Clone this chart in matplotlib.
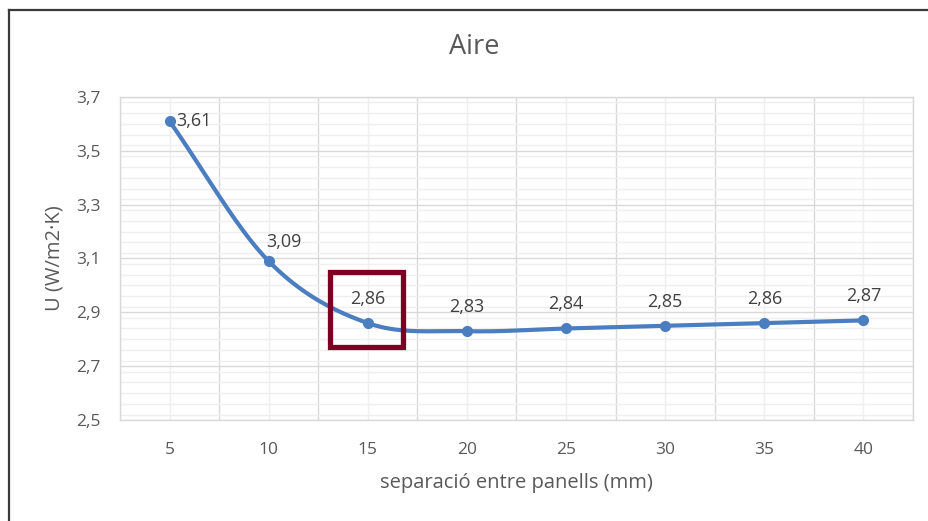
import numpy as np
import matplotlib
matplotlib.use("Agg")
import matplotlib.pyplot as plt
from matplotlib.patches import Rectangle
from matplotlib.lines import Line2D
from matplotlib.ticker import MultipleLocator, FixedLocator, NullFormatter

plt.rcParams['font.family'] = ['Open Sans', 'DejaVu Sans']

# Data
separacio = [5, 10, 15, 20, 25, 30, 35, 40]
u_valor = [3.61, 3.09, 2.86, 2.83, 2.84, 2.85, 2.86, 2.87]
etiquetes = ["3,61", "3,09", "2,86", "2,83", "2,84", "2,85", "2,86", "2,87"]
y_ticks = [2.5, 2.7, 2.9, 3.1, 3.3, 3.5, 3.7]
y_tick_labels = ["2,5", "2,7", "2,9", "3,1", "3,3", "3,5", "3,7"]

TEXT = "#595959"
BLUE = "#4a7ec1"
GRID_MAJOR = "#d9d9d9"
GRID_MINOR = "#efefef"

fig = plt.figure(figsize=(9.29, 5.21), dpi=100)
ax = fig.add_axes([120 / 929, 1 - 420 / 521, 793 / 929, 323 / 521])

idx = np.arange(len(separacio))
y = np.array(u_valor, dtype=float)

# Smoothed line: cubic Hermite with Catmull-Rom tangents, reflected end points
ext = np.concatenate([[2 * y[0] - y[1]], y, [2 * y[-1] - y[-2]]])
tang = (ext[2:] - ext[:-2]) / 2.0
xs, ys = [], []
for i in range(len(y) - 1):
    t = np.linspace(0, 1, 40)
    h00 = 2 * t**3 - 3 * t**2 + 1
    h10 = t**3 - 2 * t**2 + t
    h01 = -2 * t**3 + 3 * t**2
    h11 = t**3 - t**2
    xs.append(i + t)
    ys.append(h00 * y[i] + h10 * tang[i] + h01 * y[i + 1] + h11 * tang[i + 1])
xs = np.concatenate(xs)
ys = np.concatenate(ys)

ax.plot(xs, ys, color=BLUE, lw=3.0, solid_capstyle='round', zorder=3)
ax.plot(idx, y, 'o', color=BLUE, ms=7, zorder=4)

# Data labels
offsets = {0: (5, 0, 'left', 'center'), 1: (-2, 7, 'left', 'bottom')}
for i, (v, lab) in enumerate(zip(u_valor, etiquetes)):
    dx, dy, ha, va = offsets.get(i, (0, 11, 'center', 'bottom'))
    ax.annotate(lab, (i, v), xytext=(dx, dy), textcoords='offset points',
                ha=ha, va=va, fontsize=13, color="#404040", zorder=5)

ax.set_xlim(-0.5, len(separacio) - 0.5)
ax.set_ylim(2.5, 3.7)

ax.yaxis.set_major_locator(FixedLocator(y_ticks))
ax.set_yticklabels(y_tick_labels)
ax.yaxis.set_minor_locator(MultipleLocator(0.04))
ax.xaxis.set_major_locator(FixedLocator(idx))
ax.set_xticklabels([str(s) for s in separacio])
ax.xaxis.set_minor_locator(FixedLocator(np.arange(-0.5, len(separacio), 1.0)))
ax.xaxis.set_minor_formatter(NullFormatter())

ax.grid(True, which='major', axis='y', color=GRID_MAJOR, lw=1.0, zorder=0)
ax.grid(True, which='minor', axis='y', color=GRID_MINOR, lw=1.0, zorder=0)
ax.grid(True, which='minor', axis='x', color=GRID_MAJOR, lw=1.0, zorder=0)
ax.grid(True, which='major', axis='x', color=GRID_MINOR, lw=1.0, zorder=0)
ax.set_axisbelow(True)

ax.tick_params(axis='both', which='both', length=0, labelsize=12.5, colors=TEXT)
ax.tick_params(axis='y', pad=14)
ax.tick_params(axis='x', pad=16)
for s in ax.spines.values():
    s.set_color(GRID_MAJOR)
    s.set_linewidth(1.0)

ax.set_xlabel("separació entre panells (mm)", fontsize=14.5, color=TEXT)
ax.set_ylabel("U (W/m2·K)", fontsize=14.5, color=TEXT)
ax.xaxis.set_label_coords(516 / 929, 1 - 483 / 521, transform=fig.transFigure)
ax.yaxis.set_label_coords(55 / 929, 1 - 258 / 521, transform=fig.transFigure)
ax.xaxis.label.set_va('center')
ax.yaxis.label.set_va('center')

fig.text(474 / 929, 1 - 47 / 521, "Aire", fontsize=19.5, color=TEXT,
         ha='center', va='center')

# Highlight box around the 15 mm point
ax.add_patch(Rectangle((1.62, 2.772), 0.74, 0.279, fill=False,
                       edgecolor="#7d0022", lw=3.8, zorder=6, clip_on=False))

# Outer frame (top and left edges)
fig.add_artist(Line2D([8.5 / 929, 8.5 / 929], [0, 1 - 9.5 / 521],
                      transform=fig.transFigure, color="#3a3a3a", lw=1.6))
fig.add_artist(Line2D([8.5 / 929, 1], [1 - 9.5 / 521, 1 - 9.5 / 521],
                      transform=fig.transFigure, color="#3a3a3a", lw=1.6))

fig.savefig("out.png", dpi=100)
